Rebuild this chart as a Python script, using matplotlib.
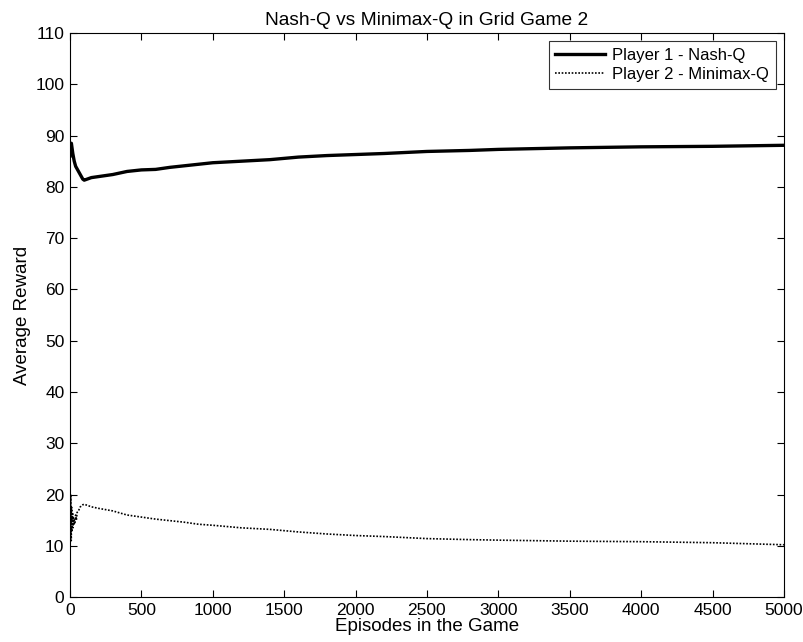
import matplotlib
matplotlib.use("Agg")
import matplotlib.pyplot as plt

# Player 1 - Nash-Q
p1_x = [0, 5, 10, 15, 20, 30, 40, 50, 60, 70, 80, 90, 100, 150, 200, 300, 400, 500, 600, 700, 800,
        900, 1000, 1200, 1400, 1600, 1800, 2000, 2200, 2500, 2800, 3000, 3500, 4000, 4500, 5000]
p1_y = [86.0, 88.0, 88.5, 87.5, 86.5, 85.0, 84.0, 83.5, 83.0, 82.5, 82.0, 81.5, 81.3, 81.8, 82.0, 82.4,
        83.0, 83.3, 83.4, 83.8, 84.1, 84.4, 84.7, 85.0, 85.3, 85.8, 86.1, 86.3, 86.5, 86.9, 87.1, 87.3,
        87.6, 87.8, 87.9, 88.1]

# Player 2 - Minimax-Q
p2_x = [0, 3, 6, 9, 12, 15, 18, 21, 24, 27, 30, 35, 40, 45, 50, 60, 70, 80, 90, 100, 150, 200, 300,
        400, 500, 600, 700, 800, 900, 1000, 1200, 1400, 1600, 1800, 2000, 2200, 2500, 2800, 3000,
        3500, 4000, 4500, 5000]
p2_y = [24.5, 12.0, 20.0, 11.0, 17.5, 13.0, 16.5, 13.5, 15.5, 14.0, 15.0, 14.5, 16.0, 15.0, 16.5, 16.8,
        17.5, 17.8, 18.0, 18.1, 17.6, 17.3, 16.8, 16.0, 15.6, 15.2, 14.9, 14.6, 14.2, 14.0, 13.5, 13.2,
        12.7, 12.3, 12.0, 11.8, 11.4, 11.2, 11.1, 10.9, 10.8, 10.6, 10.2]

x_ticks = list(range(0, 5001, 500))
y_ticks = list(range(0, 111, 10))

plt.rcParams['font.family'] = ['Liberation Sans', 'DejaVu Sans']

fig = plt.figure(figsize=(8.04, 6.42), dpi=100)
ax = fig.add_axes([0.087, 0.070, 0.888, 0.8786])

ax.plot(p1_x, p1_y, color='black', linewidth=2.4, label='Player 1 - Nash-Q')
ax.plot(p2_x, p2_y, color='black', linewidth=1.2, linestyle=(0, (1, 1)), label='Player 2 - Minimax-Q')

ax.set_xlim(0, 5000)
ax.set_ylim(0, 110)
ax.set_xticks(x_ticks)
ax.set_yticks(y_ticks)
ax.tick_params(direction='in', top=True, right=True, labelsize=12.5, length=5, pad=4)
for s in ax.spines.values():
    s.set_linewidth(0.8)

ax.set_title('Nash-Q vs Minimax-Q in Grid Game 2', fontsize=13.8, pad=6)
ax.set_xlabel('Episodes in the Game', fontsize=13.5, labelpad=0)
ax.set_ylabel('Average Reward', fontsize=13.5, labelpad=3)

leg = ax.legend(loc='upper right', fontsize=12, frameon=True, fancybox=False,
                edgecolor='black', handlelength=3.0, borderaxespad=0.5, borderpad=0.4,
                labelspacing=0.25, handletextpad=0.4)
leg.get_frame().set_linewidth(0.8)

fig.savefig('out.png', dpi=100)
